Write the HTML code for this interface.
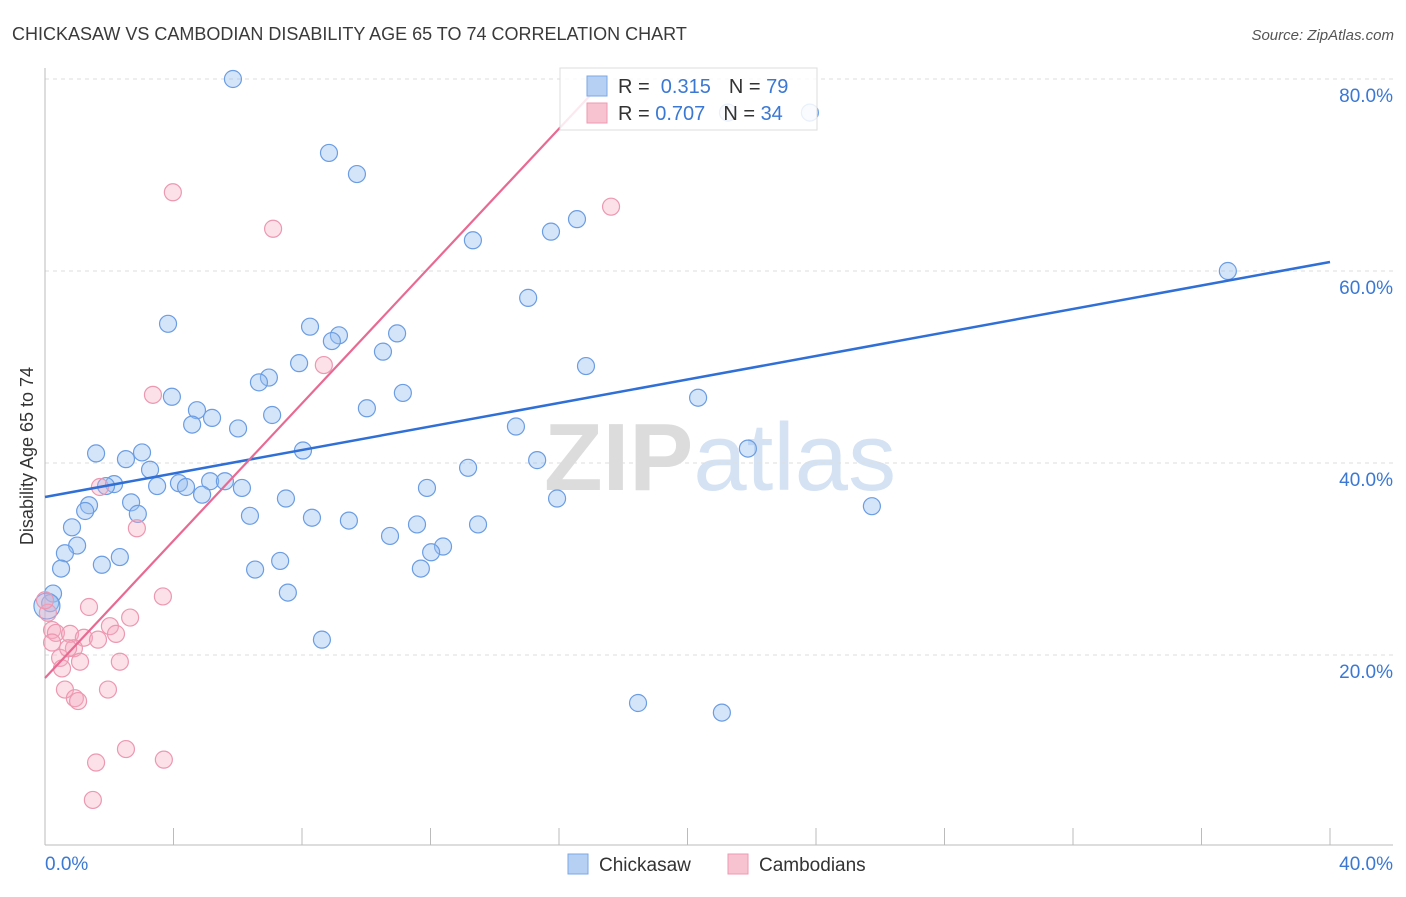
<!DOCTYPE html>
<html><head><meta charset="utf-8"><style>
body{margin:0;background:#fff;font-family:"Liberation Sans",sans-serif}
svg text{font-family:"Liberation Sans",sans-serif}
</style></head><body>
<svg id="chart" width="1406" height="892" xmlns="http://www.w3.org/2000/svg">
<text x="12" y="40" font-size="18" fill="#3a3a3a">CHICKASAW VS CAMBODIAN DISABILITY AGE 65 TO 74 CORRELATION CHART</text>
<text x="1394" y="40" font-size="15" fill="#555" text-anchor="end" font-style="italic">Source: ZipAtlas.com</text>
<text x="720" y="490" font-size="96" text-anchor="middle" fill="#e6e6e6" font-family="Liberation Serif"><tspan font-weight="bold" fill="#dcdcdc">ZIP</tspan><tspan fill="#d4e2f4" font-family="Liberation Sans">atlas</tspan></text>
<g id="grid"></g><g id="axes"></g><g id="pts"></g><g id="lines"></g>
<text transform="translate(33,456) rotate(-90)" font-size="18" fill="#333" text-anchor="middle">Disability Age 65 to 74</text>
<g>
<rect x="560" y="68" width="257" height="62" fill="#fff" fill-opacity="0.85" stroke="#ddd"/>
<rect x="587" y="76" width="20" height="20" fill="#b5d0f3" stroke="#7aa8e6"/>
<rect x="587" y="103" width="20" height="20" fill="#f8c3d1" stroke="#ee9ab3"/>
<text x="618" y="93" font-size="20" fill="#333">R = <tspan fill="#3a78d4">&#160;0.315</tspan><tspan dx="18">N = </tspan><tspan fill="#3a78d4">79</tspan></text>
<text x="618" y="120" font-size="20" fill="#333">R = <tspan fill="#3a78d4">0.707</tspan><tspan dx="18">N = </tspan><tspan fill="#3a78d4">34</tspan></text>
</g>
<g>
<rect x="568" y="854" width="20" height="20" fill="#b5d0f3" stroke="#7aa8e6"/>
<text x="599" y="871" font-size="19" fill="#333">Chickasaw</text>
<rect x="728" y="854" width="20" height="20" fill="#f8c3d1" stroke="#ee9ab3"/>
<text x="759" y="871" font-size="19" fill="#333">Cambodians</text>
</g>
</svg>
<script>
const blueX=[5.85,8.84,9.71,13.32,15.75,16.56,15.04,36.82,3.83,8.25,9.15,8.93,10.96,10.52,7.91,16.84,6.97,6.66,11.14,3.95,10.02,4.73,5.20,7.07,4.58,6.01,20.33,14.66,1.59,3.02,21.88,2.52,8.03,15.32,13.17,3.27,2.15,1.90,3.49,4.17,4.39,5.14,5.60,6.13,4.89,2.68,7.50,15.94,11.89,25.74,1.37,1.25,2.89,6.38,8.31,9.46,11.58,13.48,0.84,10.74,1.00,0.62,12.39,12.02,2.33,7.32,1.77,0.50,6.54,11.70,0.25,0.16,0.06,7.56,8.62,18.46,21.07,21.26,23.81];
const blueY=[80.0,72.3,70.1,63.2,64.1,65.4,57.2,60.0,54.5,54.2,53.3,52.7,53.5,51.6,50.4,50.1,48.9,48.4,47.3,46.9,45.7,45.5,44.7,45.0,44.0,43.6,46.8,43.8,41.0,41.1,41.5,40.4,41.3,40.3,39.5,39.3,37.8,37.6,37.6,37.9,37.5,38.1,38.1,37.4,36.7,35.9,36.3,36.3,37.4,35.5,35.6,35.0,34.7,34.5,34.3,34.0,33.6,33.6,33.3,32.4,31.4,30.6,31.3,30.7,30.2,29.8,29.4,29.0,28.9,29.0,26.4,25.4,25.1,26.5,21.6,15.0,14.0,76.5,76.5];
const pinkX=[3.98,7.10,17.62,8.68,3.36,1.71,2.86,3.67,1.37,2.65,0.09,0.22,0.34,0.78,2.02,2.21,1.21,1.65,0.90,0.22,0.47,0.72,1.09,0.53,2.33,0.62,0.93,1.03,1.96,2.52,1.59,3.70,1.49,0.0];
const pinkY=[68.2,64.4,66.7,50.2,47.1,37.5,33.2,26.1,25.0,23.9,24.4,22.6,22.3,22.2,23.0,22.2,21.8,21.6,20.7,21.3,19.7,20.7,19.3,18.6,19.3,16.4,15.5,15.2,16.4,10.2,8.8,9.1,4.9,25.7];
const xTicks=[0,4,8,12,16,20,24,28,32,36,40];
const yTicks=[20,40,60,80];
const yTickLabels=["20.0%","40.0%","60.0%","80.0%"];
const blueTrend=[36.46,60.94];
const pinkTrend=[17.6,79.4];
const pinkTrendEndX=17.28;
const sx=v=>45+v*32.125, sy=v=>847-v*9.6;
const NS="http://www.w3.org/2000/svg";
function mk(t,a,p){const e=document.createElementNS(NS,t);for(const k in a)e.setAttribute(k,a[k]);p.appendChild(e);return e;}
const grid=document.getElementById('grid'),axes=document.getElementById('axes'),pts=document.getElementById('pts'),lines=document.getElementById('lines');
yTicks.forEach((t,i)=>{
 const l=mk('line',{x1:45,x2:1393,y1:sy(t),y2:sy(t),stroke:'#ddd','stroke-dasharray':'4,4'},grid);
 
 
 const tx=mk('text',{x:1393,y:sy(t)+23,'font-size':19,fill:'#3a78d4','text-anchor':'end'},axes);tx.textContent=yTickLabels[i];
 
 
});
const ax=mk('line',{x1:45,x2:1393,y1:845,y2:845,stroke:'#bbb'},axes);


const ay=mk('line',{x1:45,x2:45,y1:68,y2:845,stroke:'#bbb'},axes);


xTicks.forEach(t=>{const l=mk('line',{x1:sx(t),x2:sx(t),y1:828,y2:845,stroke:'#bbb'},axes);
 
 });
const xl0=mk('text',{x:45,y:870,'font-size':19,fill:'#3a78d4'},axes);xl0.textContent='0.0%';


const xl1=mk('text',{x:1393,y:870,'font-size':19,fill:'#3a78d4','text-anchor':'end'},axes);xl1.textContent='40.0%';


blueX.forEach((x,i)=>{const c=mk('circle',{cx:sx(x),cy:sy(blueY[i]),r:(i==72?13:8.5),fill:'rgba(150,190,240,0.4)',stroke:'#6b9de3','stroke-width':1.2},pts);
 
 });
pinkX.forEach((x,i)=>{const c=mk('circle',{cx:sx(x),cy:sy(pinkY[i]),r:8.5,fill:'rgba(245,170,192,0.35)',stroke:'#ec98b1','stroke-width':1.2},pts);
 
 });
const bl=mk('line',{x1:sx(0),y1:sy(blueTrend[0]),x2:sx(40),y2:sy(blueTrend[1]),stroke:'#2f6fd6','stroke-width':2.5},lines);


const pl=mk('line',{x1:sx(0),y1:sy(pinkTrend[0]),x2:sx(pinkTrendEndX),y2:sy(pinkTrend[1]),stroke:'#e86a93','stroke-width':2.2},lines);


</script>
</body></html>
